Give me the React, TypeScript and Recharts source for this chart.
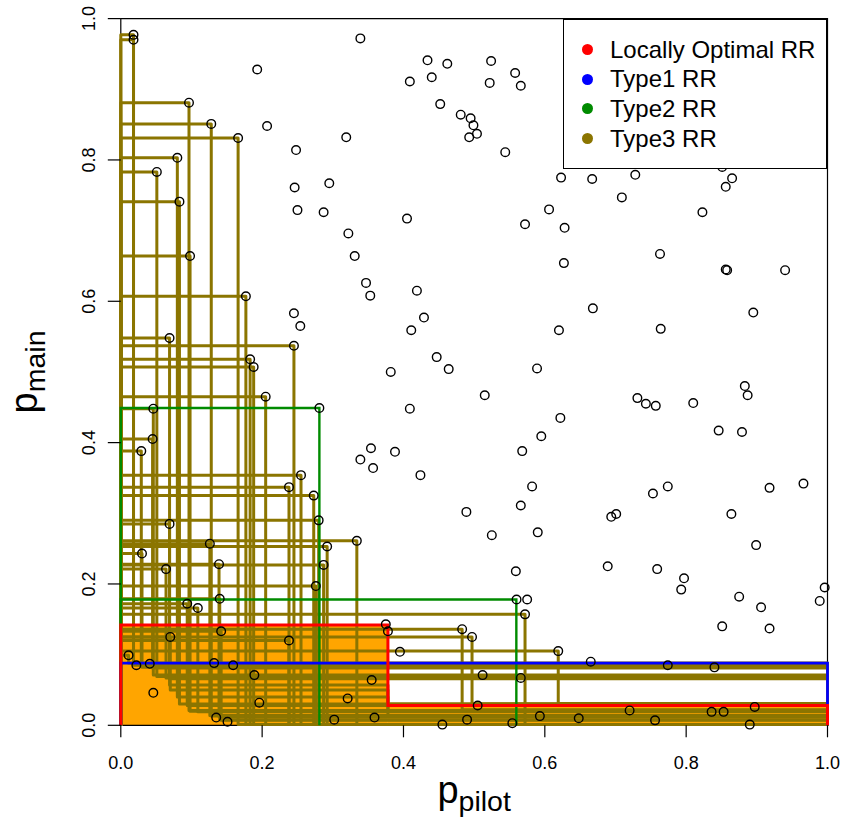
import React from 'react';
import { ComposedChart, Scatter, Line, XAxis, YAxis, ReferenceArea, Legend, Label } from 'recharts';

const FONT = '"Liberation Sans", Arial, Helvetica, sans-serif';

// observed p-values (open circles)
const pilotP = [
  0.018, 0.018, 0.339, 0.193, 0.0965, 0.207, 0.128, 0.166, 0.319, 0.248, 0.080, 0.051, 0.246, 0.295, 0.083, 0.250, 0.287, 0.322,
  0.434, 0.462, 0.524, 0.409, 0.440, 0.522, 0.558, 0.566, 0.452, 0.481, 0.495, 0.499, 0.504, 0.493, 0.544, 0.623, 0.405, 0.606, 0.572, 0.628, 0.627, 0.419, 0.429, 0.411, 0.620,
  0.447, 0.382, 0.464, 0.589, 0.515, 0.409, 0.622, 0.595, 0.388, 0.568, 0.424, 0.582, 0.566, 0.489, 0.525, 0.590, 0.559, 0.560, 0.575, 0.572, 0.375, 0.378, 0.483, 0.497, 0.395, 0.619, 0.665, 0.512, 0.566, 0.505, 0.455, 0.490, 0.554, 0.593, 0.648,
  0.667, 0.728, 0.851, 0.865, 0.856, 0.709, 0.823, 0.763, 0.856, 0.858, 0.940, 0.668, 0.895, 0.764,
  0.731, 0.743, 0.757, 0.810, 0.883, 0.887, 0.846, 0.879, 0.774, 0.753, 0.918, 0.966, 0.701, 0.694, 0.864, 0.899, 0.689, 0.759, 0.797, 0.793, 0.875, 0.906, 0.996, 0.989, 0.851, 0.918, 0.774, 0.840, 0.720, 0.756, 0.836, 0.853, 0.897, 0.890,
  0.098, 0.331, 0.347, 0.353, 0.177, 0.245, 0.254, 0.069, 0.245, 0.183, 0.188, 0.205, 0.046, 0.281, 0.045, 0.029, 0.354, 0.339, 0.357, 0.255, 0.238,
  0.273, 0.280, 0.069, 0.126, 0.292, 0.334, 0.030, 0.139, 0.287, 0.064, 0.276, 0.140, 0.094, 0.109, 0.142, 0.070, 0.238, 0.011, 0.022, 0.041, 0.132, 0.159, 0.189, 0.355, 0.046, 0.321, 0.196, 0.135, 0.151, 0.302, 0.359,
];
const mainP = [
  0.977, 0.970, 0.972, 0.928, 0.881, 0.848, 0.851, 0.831, 0.832, 0.814, 0.803, 0.783, 0.761, 0.767, 0.741, 0.729, 0.726, 0.696,
  0.941, 0.936, 0.940, 0.911, 0.917, 0.909, 0.923, 0.905, 0.879, 0.864, 0.859, 0.849, 0.837, 0.832, 0.811, 0.775, 0.717, 0.730, 0.709, 0.704, 0.654, 0.615, 0.577, 0.559, 0.559,
  0.521, 0.500, 0.504, 0.505, 0.467, 0.448, 0.435, 0.409, 0.387, 0.388, 0.354, 0.338, 0.311, 0.302, 0.269, 0.273, 0.218, 0.178, 0.178, 0.157, 0.143, 0.133, 0.136, 0.125, 0.104, 0.105, 0.090, 0.071, 0.067, 0.028, 0.001, 0.008, 0.003, 0.013, 0.010,
  0.773, 0.779, 0.790, 0.774, 0.762, 0.747, 0.726, 0.667, 0.645, 0.644, 0.644, 0.590, 0.584, 0.561,
  0.463, 0.455, 0.452, 0.456, 0.480, 0.467, 0.417, 0.415, 0.338, 0.328, 0.336, 0.342, 0.299, 0.295, 0.299, 0.255, 0.225, 0.221, 0.208, 0.192, 0.182, 0.167, 0.195, 0.176, 0.140, 0.137, 0.085, 0.082, 0.021, 0.007, 0.019, 0.019, 0.026, 0.001,
  0.664, 0.664, 0.626, 0.608, 0.607, 0.583, 0.565, 0.548, 0.537, 0.518, 0.507, 0.465, 0.448, 0.449, 0.405, 0.388, 0.392, 0.376, 0.364, 0.354, 0.337,
  0.325, 0.290, 0.285, 0.257, 0.253, 0.261, 0.243, 0.228, 0.227, 0.221, 0.197, 0.179, 0.172, 0.166, 0.133, 0.125, 0.120, 0.099, 0.085, 0.087, 0.088, 0.085, 0.071, 0.064, 0.046, 0.038, 0.032, 0.011, 0.005, 0.008, 0.011,
];

// Type3 rejection regions: corner (pilot, main), floor level, optional second step
const type3Pilot = [0.011, 0.018, 0.018, 0.029, 0.030, 0.045, 0.046, 0.051, 0.064, 0.069, 0.069, 0.070, 0.080, 0.083, 0.094, 0.0965, 0.098, 0.109, 0.126, 0.128, 0.139, 0.140, 0.142, 0.166, 0.177, 0.183, 0.188, 0.205, 0.238, 0.238, 0.245, 0.255, 0.273, 0.276, 0.280, 0.287, 0.292, 0.334, 0.483, 0.497, 0.572, 0.619];
const type3Main = [0.099, 0.977, 0.970, 0.388, 0.243, 0.405, 0.448, 0.783, 0.221, 0.548, 0.285, 0.125, 0.803, 0.741, 0.172, 0.881, 0.664, 0.166, 0.257, 0.851, 0.228, 0.179, 0.133, 0.831, 0.607, 0.518, 0.507, 0.465, 0.337, 0.120, 0.537, 0.354, 0.325, 0.197, 0.290, 0.227, 0.253, 0.261, 0.136, 0.125, 0.157, 0.105];
const type3Floor = [
  0.088, 0.087, 0.085, 0.084, 0.082, 0.081, 0.071, 0.069, 0.067, 0.066, 0.057, 0.050, 0.040, 0.030, 0.028, 0.021, 0.020, 0.019, 0.014, 0.013, 0.012, 0.008, 0.007,
  0.001, 0.001, 0.001, 0.001, 0.001, 0.001, 0.001, 0.001, 0.001, 0.001, 0.001, 0.001, 0.001, 0.001, 0.001,
  0.022, 0.030, 0.001, 0.031,
];
const type3StepIndex = [10, 11, 12];
const type3StepPilot = [0.378, 0.378, 0.378];
const type3StepMain = [0.030, 0.020, 0.013];

// locally optimal RR (staircase), Type1 RR, Type2 RRs
const optimalPilot = [0.378, 1];
const optimalMain = [0.142, 0.028];
const type1Main = 0.088;
const type2Pilot = [0.281, 0.5597];
const type2Main = [0.449, 0.178];

const axisTicks = [0, 0.2, 0.4, 0.6, 0.8, 1];
const legendLabels = ['Locally Optimal RR', 'Type1 RR', 'Type2 RR', 'Type3 RR'];
const legendColors = ['#FF0000', '#0000FF', '#008B00', '#8B7500'];

const points = pilotP.map((x, i) => ({ x, y: mainP[i] }));
const toXY = (pts: number[][]) => pts.map(([x, y]) => ({ x, y }));

const type3Paths = type3Pilot.map((x, i) => {
  const y = type3Main[i];
  const c = type3Floor[i];
  const s = type3StepIndex.indexOf(i);
  const tail = s >= 0
    ? [[type3StepPilot[s], c], [type3StepPilot[s], type3StepMain[s]], [1, type3StepMain[s]]]
    : [[1, c]];
  return toXY([[0, 0], [0, y], [x, y], [x, c], ...tail, [1, 0]]);
});

const type2Paths = type2Pilot.map((x, i) => toXY([[0, 0], [0, type2Main[i]], [x, type2Main[i]], [x, 0]]));
const type1Path = toXY([[0, 0], [0, type1Main], [1, type1Main], [1, 0]]);
const optimalPath = toXY([
  [0, 0], [0, optimalMain[0]], [optimalPilot[0], optimalMain[0]],
  [optimalPilot[0], optimalMain[1]], [optimalPilot[1], optimalMain[1]], [optimalPilot[1], 0],
]);

const Circle = (props: any) => (
  <circle cx={props.cx} cy={props.cy} r={4.3} fill="none" stroke="#000" strokeWidth={1.4} />
);

const YTick = (props: any) => {
  const bx = props.x - 12.3;
  return (
    <text x={bx} y={props.y} transform={`rotate(-90 ${bx} ${props.y})`} textAnchor="middle"
      fontSize={18} fill="#000" fontFamily={FONT}>
      {Number(props.payload.value).toFixed(1)}
    </text>
  );
};

const XTitle = (props: any) => {
  const vb = props.viewBox || { x: 120.8, y: 725.3, width: 706.7 };
  const cx = vb.x + vb.width / 2;
  const by = vb.y + 77.5;
  return (
    <text x={cx} y={by} textAnchor="middle" fill="#000" fontFamily={FONT}>
      <tspan fontSize={38}>p</tspan>
      <tspan fontSize={28.5} dy={8}>pilot</tspan>
    </text>
  );
};

const YTitle = (props: any) => {
  const vb = props.viewBox || { x: 60.8, y: 18.6, height: 706.7 };
  const cy = vb.y + vb.height / 2;
  const bx = vb.x - 23.8;
  return (
    <text x={bx} y={cy} transform={`rotate(-90 ${bx} ${cy})`} textAnchor="middle" fill="#000" fontFamily={FONT}>
      <tspan fontSize={38}>p</tspan>
      <tspan fontSize={28.5} dy={8}>main</tspan>
    </text>
  );
};

const LegendBox = () => (
  <div style={{
    width: 264, height: 150, boxSizing: 'border-box', border: '1px solid #000', background: '#fff',
    paddingTop: 14.5, fontFamily: FONT,
  }}>
    {legendLabels.map((label, i) => (
      <div key={label} style={{ display: 'flex', alignItems: 'center', height: 29.7 }}>
        <span style={{ width: 11, height: 11, borderRadius: '50%', background: legendColors[i], marginLeft: 17.5, flex: 'none' }} />
        <span style={{ marginLeft: 17.5, fontSize: 24, lineHeight: '29.7px', color: '#000', whiteSpace: 'nowrap' }}>{label}</span>
      </div>
    ))}
  </div>
);

const App: React.FC = () => {
  return (
    <div style={{ position: 'absolute', left: 0, top: 0, width: 843, height: 824, background: '#fff' }}>
      <ComposedChart width={843} height={824} margin={{ top: 18.6, right: 15.5, bottom: 38.7, left: 60.8 }}>
        <XAxis type="number" dataKey="x" domain={[0, 1]} ticks={axisTicks} interval={0}
          tickFormatter={(v: number) => v.toFixed(1)} axisLine={false}
          tickLine={{ stroke: '#000', strokeWidth: 1.2 }} tickSize={12} tickMargin={18.7} height={60}
          tick={{ fill: '#000', fontSize: 18, fontFamily: FONT }}>
          <Label content={XTitle} />
        </XAxis>
        <YAxis type="number" dataKey="y" domain={[0, 1]} ticks={axisTicks} interval={0}
          axisLine={false} tickLine={{ stroke: '#000', strokeWidth: 1.2 }} tickSize={13} tickMargin={0}
          width={60} tick={YTick}>
          <Label content={YTitle} />
        </YAxis>
        <ReferenceArea x1={0} x2={optimalPilot[0]} y1={0} y2={optimalMain[0]} fill="#FFA500" fillOpacity={1} stroke="none" />
        <ReferenceArea x1={optimalPilot[0]} x2={optimalPilot[1]} y1={0} y2={optimalMain[1]} fill="#FFA500" fillOpacity={1} stroke="none" />
        <ReferenceArea x1={0} x2={1} y1={0} y2={1} fill="none" stroke="#000" strokeWidth={1.2} />
        {type3Paths.map((d, i) => (
          <Line key={`t3-${i}`} data={d} dataKey="y" type="linear" stroke="#8B7500" strokeWidth={3}
            strokeLinejoin="round" dot={false} activeDot={false} legendType="none" isAnimationActive={false} />
        ))}
        {type2Paths.map((d, i) => (
          <Line key={`t2-${i}`} data={d} dataKey="y" type="linear" stroke="#008B00" strokeWidth={2.4}
            dot={false} activeDot={false} legendType="none" isAnimationActive={false} />
        ))}
        <Line data={type1Path} dataKey="y" type="linear" stroke="#0000FF" strokeWidth={2.7}
          dot={false} activeDot={false} legendType="none" isAnimationActive={false} />
        <Line data={optimalPath} dataKey="y" type="linear" stroke="#FF0000" strokeWidth={3}
          dot={false} activeDot={false} legendType="none" isAnimationActive={false} />
        <Scatter data={points} shape={Circle} isAnimationActive={false} legendType="none" />
        <Legend layout="horizontal" verticalAlign="middle" align="center" width={264} height={150}
          wrapperStyle={{ left: 563, top: 19, width: 264, height: 150 }} content={LegendBox} />
      </ComposedChart>
    </div>
  );
};

export default App;
